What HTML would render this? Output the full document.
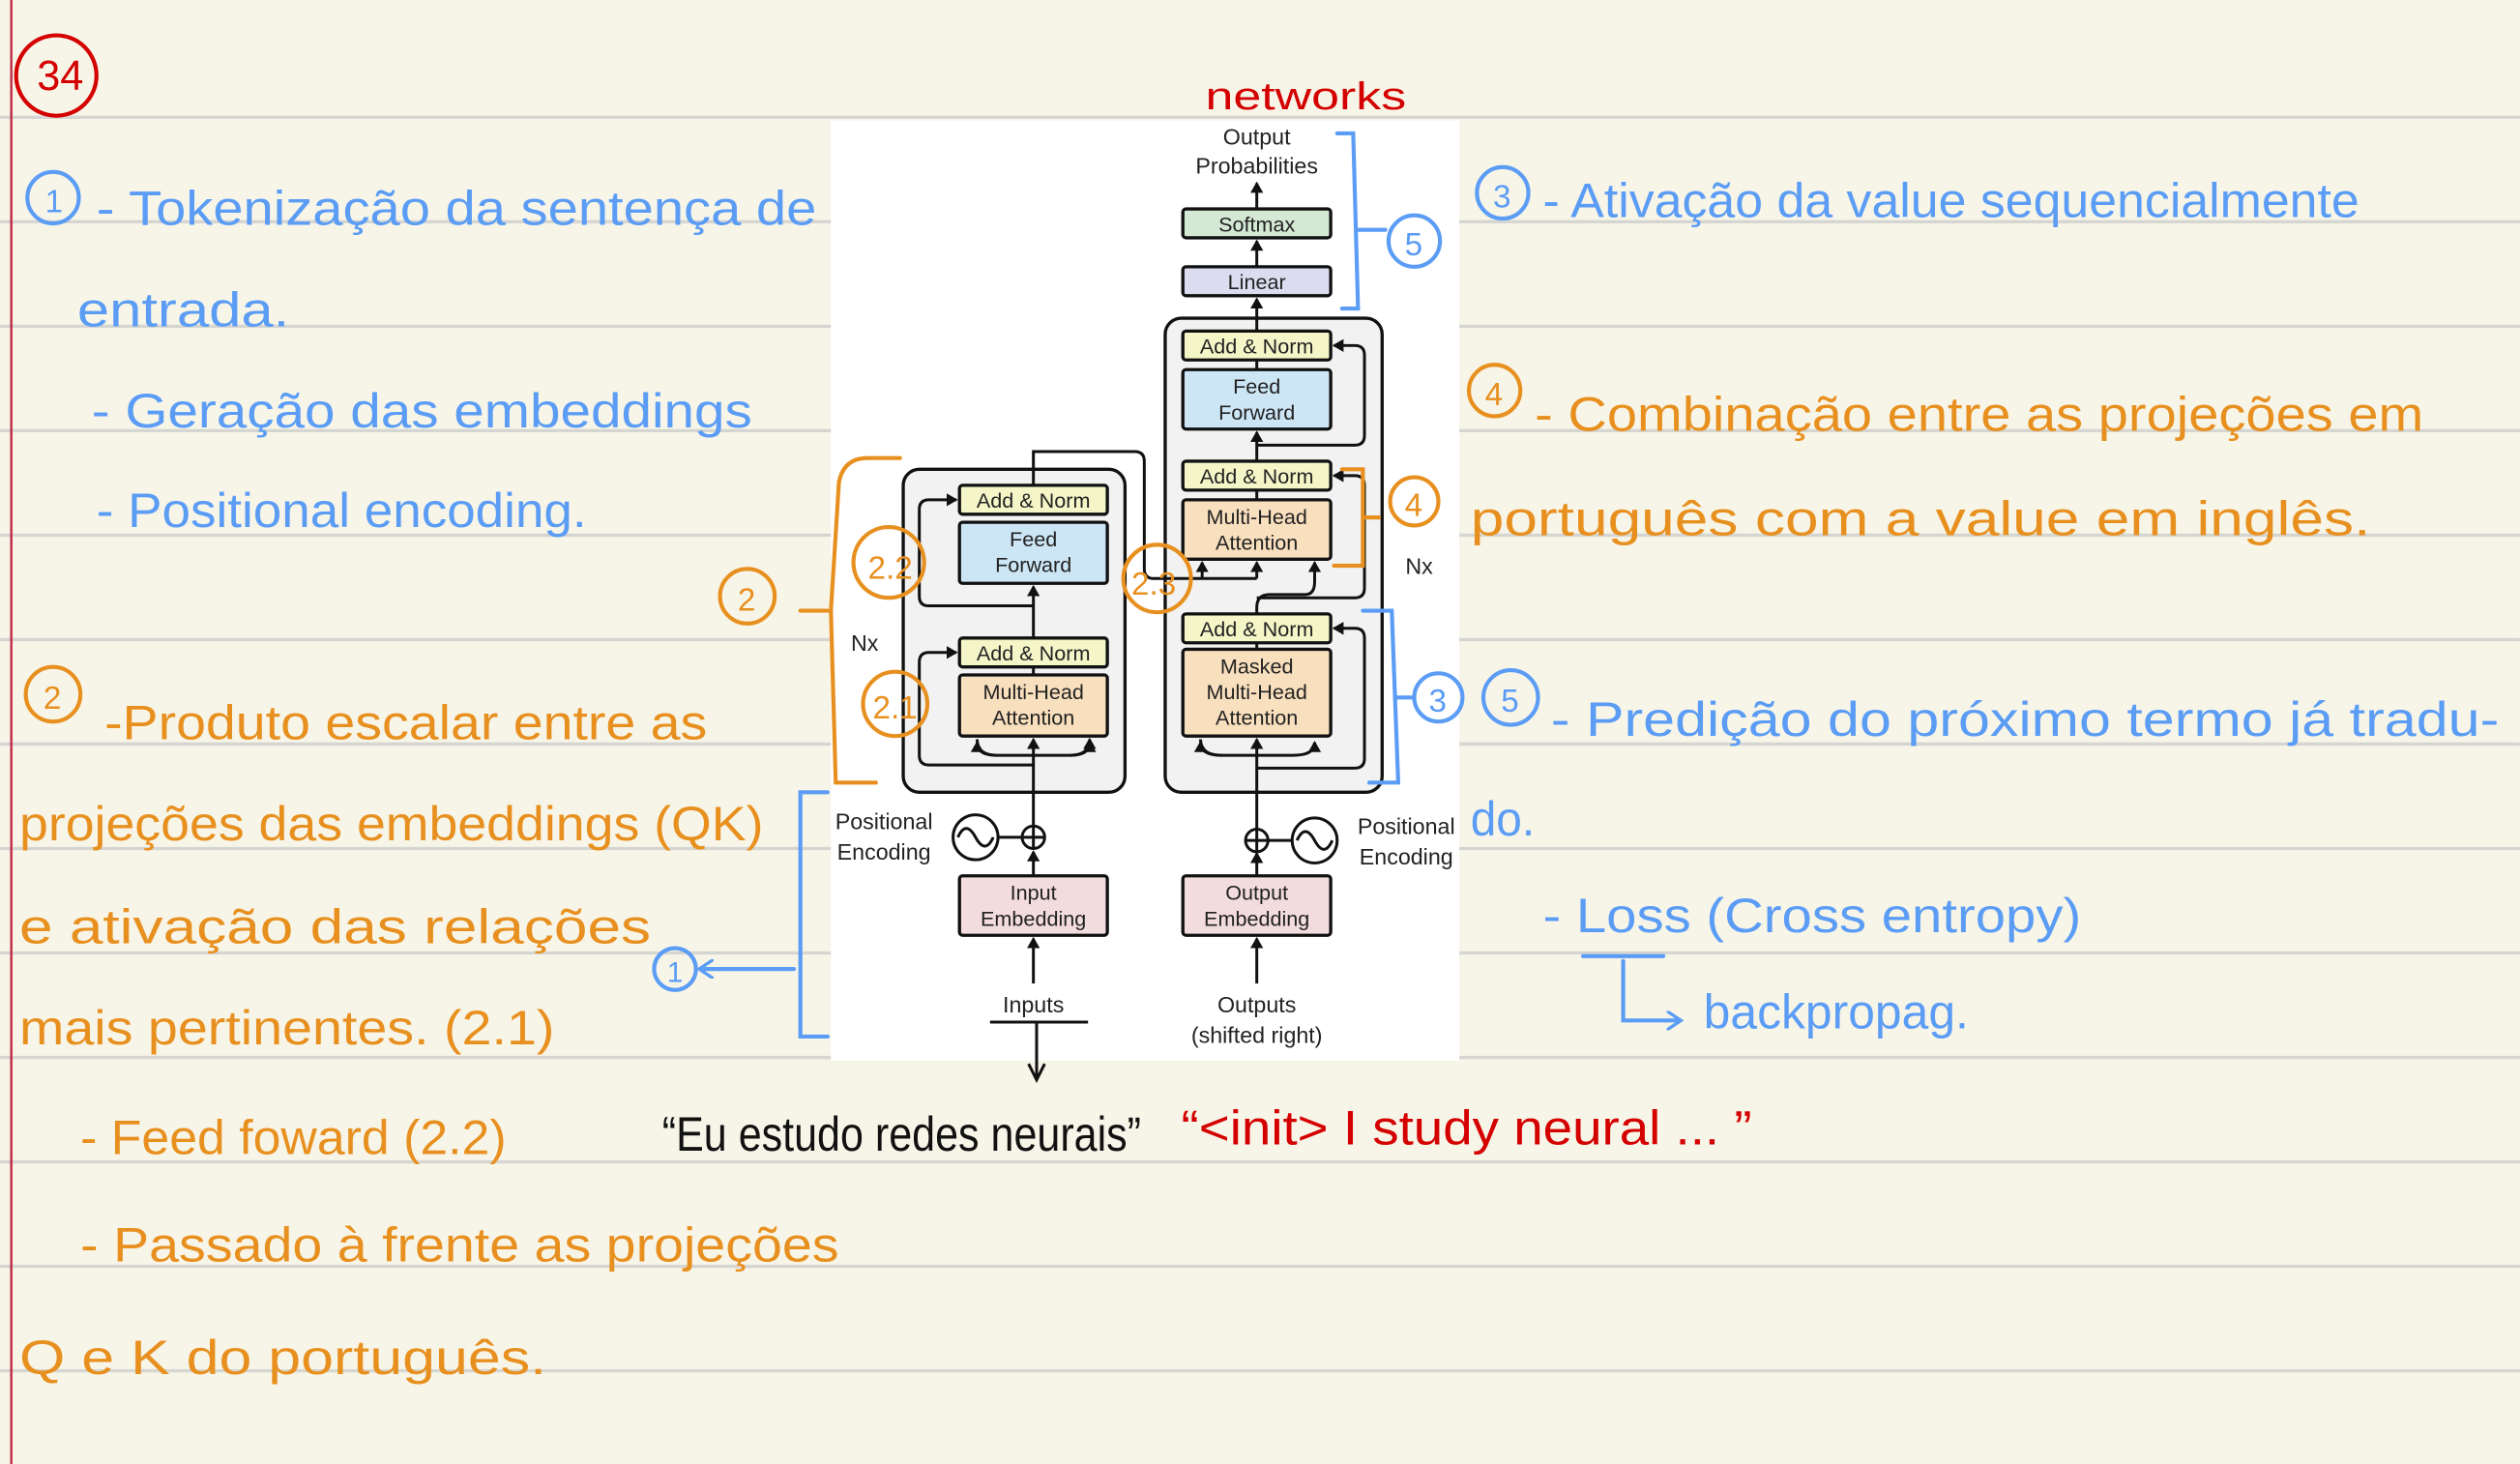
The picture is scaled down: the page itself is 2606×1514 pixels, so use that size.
<!DOCTYPE html>
<html><head><meta charset="utf-8"><style>
html,body{margin:0;padding:0;background:#f7f5e8;}
svg{display:block}
.h{font-family:"Liberation Sans",sans-serif;}
.b{fill:#5b9cf5}.o{fill:#e8901f}.r{fill:#d40000}
.dg{font-family:"Liberation Sans",sans-serif;font-size:13px;fill:#222;text-anchor:middle}
</style></head><body>
<svg width="2606" height="1514" viewBox="0 0 1568 911" xmlns="http://www.w3.org/2000/svg">
<defs>
<marker id="a" markerWidth="8" markerHeight="8" refX="6" refY="4" orient="auto" markerUnits="userSpaceOnUse"><path d="M0,0 L7,4 L0,8 Z" fill="#111"/></marker>
<marker id="bb" markerWidth="12" markerHeight="12" refX="8" refY="6" orient="auto" markerUnits="userSpaceOnUse"><path d="M0,0 L9,6 L0,12" fill="none" stroke="#5b9cf5" stroke-width="2"/></marker>
</defs>
<rect width="1568" height="911" fill="#f7f5e8"/>
<g stroke="#d5d5d2" stroke-width="2">
<line x1="0" y1="73" x2="1568" y2="73"/><line x1="0" y1="138" x2="1568" y2="138"/><line x1="0" y1="203" x2="1568" y2="203"/><line x1="0" y1="268" x2="1568" y2="268"/><line x1="0" y1="333" x2="1568" y2="333"/><line x1="0" y1="398" x2="1568" y2="398"/><line x1="0" y1="463" x2="1568" y2="463"/><line x1="0" y1="528" x2="1568" y2="528"/><line x1="0" y1="593" x2="1568" y2="593"/><line x1="0" y1="658" x2="1568" y2="658"/><line x1="0" y1="723" x2="1568" y2="723"/><line x1="0" y1="788" x2="1568" y2="788"/><line x1="0" y1="853" x2="1568" y2="853"/>
</g>
<line x1="7" y1="0" x2="7" y2="911" stroke="#c0304a" stroke-width="1.5"/>
<!-- diagram -->
<rect x="517" y="75" width="391" height="585" fill="#fff"/>
<g stroke="#111" stroke-width="2" fill="none">
<rect x="562" y="292" width="138" height="201" rx="10" fill="#f2f2f3"/>
<rect x="725" y="198" width="135" height="295" rx="10" fill="#f2f2f3"/>
</g>
<g stroke="#111" stroke-width="2">
<rect x="597" y="302" width="92" height="18" rx="2" fill="#f4f6c8"/>
<rect x="597" y="325" width="92" height="38" rx="2" fill="#cde6f5"/>
<rect x="597" y="397" width="92" height="18" rx="2" fill="#f4f6c8"/>
<rect x="597" y="420" width="92" height="38" rx="2" fill="#f8dfbd"/>
<rect x="736" y="206" width="92" height="18" rx="2" fill="#f4f6c8"/>
<rect x="736" y="230" width="92" height="37" rx="2" fill="#cde6f5"/>
<rect x="736" y="287" width="92" height="18" rx="2" fill="#f4f6c8"/>
<rect x="736" y="311" width="92" height="37" rx="2" fill="#f8dfbd"/>
<rect x="736" y="382" width="92" height="18" rx="2" fill="#f4f6c8"/>
<rect x="736" y="404" width="92" height="54" rx="2" fill="#f8dfbd"/>
<rect x="736" y="166" width="92" height="18" rx="2" fill="#dcdcf0"/>
<rect x="736" y="130" width="92" height="18" rx="2" fill="#d4e9d4"/>
<rect x="597" y="545" width="92" height="37" rx="2" fill="#f3dcdd"/>
<rect x="736" y="545" width="92" height="37" rx="2" fill="#f3dcdd"/>
</g>
<g stroke="#111" stroke-width="1.8" fill="none">
<!-- encoder -->
<line x1="643" y1="612" x2="643" y2="584" marker-end="url(#a)"/>
<line x1="643" y1="545" x2="643" y2="530" marker-end="url(#a)"/>
<line x1="643" y1="514" x2="643" y2="460" marker-end="url(#a)"/>
<line x1="643" y1="420" x2="643" y2="415"/>
<line x1="643" y1="397" x2="643" y2="365" marker-end="url(#a)"/>
<path d="M643,302 V281 H706 Q712,281 712,287 V354 Q712,360 718,360 H782"/>
<path d="M748,360 V350" marker-end="url(#a)"/>
<path d="M782,360 V350" marker-end="url(#a)"/>
<path d="M643,476 H578 Q572,476 572,470 V412 Q572,406 578,406 H595" marker-end="url(#a)"/>
<path d="M643,377 H578 Q572,377 572,371 V317 Q572,311 578,311 H595" marker-end="url(#a)"/>
<path d="M608,460 Q608,470 620,470 H666 Q678,470 678,460" marker-end="url(#a)"/>
<path d="M666,470 Q678,470 678,462" marker-end="url(#a)"/>
<path d="M620,470 Q608,470 608,462" marker-end="url(#a)"/>
<!-- decoder -->
<line x1="782" y1="612" x2="782" y2="584" marker-end="url(#a)"/>
<line x1="782" y1="545" x2="782" y2="531" marker-end="url(#a)"/>
<line x1="782" y1="516" x2="782" y2="460" marker-end="url(#a)"/>
<line x1="782" y1="404" x2="782" y2="400"/>
<path d="M782,382 V378 Q782,370 790,370 H812 Q818,370 818,362 V350" marker-end="url(#a)"/>
<line x1="782" y1="311" x2="782" y2="305"/>
<line x1="782" y1="287" x2="782" y2="269" marker-end="url(#a)"/>
<line x1="782" y1="230" x2="782" y2="224"/>
<line x1="782" y1="206" x2="782" y2="186" marker-end="url(#a)"/>
<line x1="782" y1="166" x2="782" y2="150" marker-end="url(#a)"/>
<line x1="782" y1="130" x2="782" y2="114" marker-end="url(#a)"/>
<path d="M782,478 H843 Q849,478 849,472 V397 Q849,391 843,391 H830" marker-end="url(#a)"/>
<path d="M782,372 H843 Q849,372 849,366 V302 Q849,296 843,296 H830" marker-end="url(#a)"/>
<path d="M782,277 H843 Q849,277 849,271 V221 Q849,215 843,215 H830" marker-end="url(#a)"/>
<path d="M747,460 Q747,470 760,470 H805 Q818,470 818,462" marker-end="url(#a)"/>
<path d="M760,470 Q747,470 747,462" marker-end="url(#a)"/>
<!-- positional -->
<circle cx="607" cy="521" r="14"/><path d="M596,521 q5,-11 11,0 q6,11 11,0"/>
<line x1="621" y1="521" x2="636" y2="521"/>
<circle cx="643" cy="521" r="7"/><path d="M636,521 h14 M643,514 v14"/>
<circle cx="818" cy="523" r="14"/><path d="M807,523 q5,-11 11,0 q6,11 11,0"/>
<line x1="789" y1="523" x2="804" y2="523"/>
<circle cx="782" cy="523" r="7"/><path d="M775,523 h14 M782,516 v14"/>
<path d="M616,636 H677 M645,636 V670 M640,662 l5,10 l5,-10"/>
</g>
<g class="dg">
<text x="643" y="316">Add &amp; Norm</text>
<text x="643" y="340">Feed</text><text x="643" y="356">Forward</text>
<text x="643" y="411">Add &amp; Norm</text>
<text x="643" y="435">Multi-Head</text><text x="643" y="451">Attention</text>
<text x="782" y="220">Add &amp; Norm</text>
<text x="782" y="245">Feed</text><text x="782" y="261">Forward</text>
<text x="782" y="301">Add &amp; Norm</text>
<text x="782" y="326">Multi-Head</text><text x="782" y="342">Attention</text>
<text x="782" y="396">Add &amp; Norm</text>
<text x="782" y="419">Masked</text><text x="782" y="435">Multi-Head</text><text x="782" y="451">Attention</text>
<text x="782" y="180">Linear</text>
<text x="782" y="144">Softmax</text>
<text x="782" y="90" font-size="14">Output</text><text x="782" y="108" font-size="14">Probabilities</text>
<text x="643" y="560">Input</text><text x="643" y="576">Embedding</text>
<text x="782" y="560">Output</text><text x="782" y="576">Embedding</text>
<text x="550" y="516" font-size="14">Positional</text><text x="550" y="535" font-size="14">Encoding</text>
<text x="875" y="519" font-size="14">Positional</text><text x="875" y="538" font-size="14">Encoding</text>
<text x="643" y="630" font-size="14">Inputs</text>
<text x="782" y="630" font-size="14">Outputs</text><text x="782" y="649" font-size="14">(shifted right)</text>
<text x="538" y="405" font-size="14">Nx</text><text x="883" y="357" font-size="14">Nx</text>
</g>
<!-- annotations shapes -->
<g fill="none" stroke-width="2.5" stroke-linecap="round">
<circle cx="35" cy="47" r="25" stroke="#d40000"/>
<circle cx="33" cy="123" r="16" stroke="#5b9cf5"/>
<circle cx="935" cy="120" r="16" stroke="#5b9cf5"/>
<circle cx="930" cy="243" r="16" stroke="#e8901f"/>
<circle cx="33" cy="432" r="17" stroke="#e8901f"/>
<circle cx="465" cy="371" r="17" stroke="#e8901f"/>
<path d="M498,380 H515" stroke="#e8901f"/>
<path d="M560,285 H540 Q525,285 522,300 L517,380 L520,487 H545" stroke="#e8901f"/>
<circle cx="553" cy="350" r="22" stroke="#e8901f"/>
<circle cx="557" cy="438" r="20" stroke="#e8901f"/>
<circle cx="720" cy="360" r="21" stroke="#e8901f"/>
<path d="M835,292 H848 V352 H830 M848,322 H858" stroke="#e8901f"/>
<circle cx="880" cy="312" r="15" stroke="#e8901f"/>
<path d="M848,380 H866 L870,487 H852 M868,434 H880" stroke="#5b9cf5"/>
<circle cx="895" cy="434" r="15" stroke="#5b9cf5"/>
<circle cx="940" cy="434" r="17" stroke="#5b9cf5"/>
<path d="M832,83 H842 L845,192 H835 M844,143 H862" stroke="#5b9cf5"/>
<circle cx="880" cy="150" r="16" stroke="#5b9cf5"/>
<path d="M515,493 H498 V645 H515" stroke="#5b9cf5"/>
<circle cx="420" cy="603" r="13" stroke="#5b9cf5"/>
<path d="M494,603 H436" stroke="#5b9cf5" marker-end="url(#bb)"/>
<path d="M985,595 H1035 M1010,598 V635 H1045" stroke="#5b9cf5" marker-end="url(#bb)"/>
</g>
<g class="h" font-size="30">
<text x="23" y="56" class="r" font-size="26">34</text>
<text x="28" y="132" class="b" font-size="20">1</text>
<text x="929" y="129" class="b" font-size="20">3</text>
<text x="924" y="252" class="o" font-size="20">4</text>
<text x="27" y="441" class="o" font-size="20">2</text>
<text x="459" y="380" class="o" font-size="20">2</text>
<text x="540" y="360" class="o" font-size="20">2.2</text>
<text x="543" y="447" class="o" font-size="20">2.1</text>
<text x="704" y="370" class="o" font-size="20">2.3</text>
<text x="874" y="321" class="o" font-size="20">4</text>
<text x="889" y="443" class="b" font-size="20">3</text>
<text x="934" y="443" class="b" font-size="20">5</text>
<text x="874" y="159" class="b" font-size="20">5</text>
<text x="415" y="611" class="b" font-size="18">1</text>
<text x="750" y="68" class="r" font-size="24" textLength="125" lengthAdjust="spacingAndGlyphs">networks</text>
<text x="60" y="140" class="b" textLength="448" lengthAdjust="spacingAndGlyphs">- Tokenização da sentença de</text>
<text x="48" y="203" class="b" textLength="132" lengthAdjust="spacingAndGlyphs">entrada.</text>
<text x="57" y="266" class="b" textLength="411" lengthAdjust="spacingAndGlyphs">- Geração das embeddings</text>
<text x="60" y="328" class="b" textLength="305" lengthAdjust="spacingAndGlyphs">- Positional encoding.</text>
<text x="65" y="460" class="o" textLength="375" lengthAdjust="spacingAndGlyphs">-Produto escalar entre as</text>
<text x="12" y="523" class="o" textLength="463" lengthAdjust="spacingAndGlyphs">projeções das embeddings (QK)</text>
<text x="12" y="587" class="o" textLength="393" lengthAdjust="spacingAndGlyphs">e ativação das relações</text>
<text x="12" y="650" class="o" textLength="333" lengthAdjust="spacingAndGlyphs">mais pertinentes. (2.1)</text>
<text x="50" y="718" class="o" textLength="265" lengthAdjust="spacingAndGlyphs">- Feed foward (2.2)</text>
<text x="50" y="785" class="o" textLength="472" lengthAdjust="spacingAndGlyphs">- Passado à frente as projeções</text>
<text x="12" y="855" class="o" textLength="328" lengthAdjust="spacingAndGlyphs">Q e K do português.</text>
<text x="412" y="716" fill="#111" textLength="298" lengthAdjust="spacingAndGlyphs">“Eu estudo redes neurais”</text>
<text x="735" y="712" class="r" textLength="355" lengthAdjust="spacingAndGlyphs">“&lt;init&gt; I study neural ... ”</text>
<text x="960" y="135" class="b" textLength="508" lengthAdjust="spacingAndGlyphs">- Ativação da value sequencialmente</text>
<text x="955" y="268" class="o" textLength="553" lengthAdjust="spacingAndGlyphs">- Combinação entre as projeções em</text>
<text x="915" y="333" class="o" textLength="560" lengthAdjust="spacingAndGlyphs">português com a value em inglês.</text>
<text x="965" y="458" class="b" textLength="590" lengthAdjust="spacingAndGlyphs">- Predição do próximo termo já tradu-</text>
<text x="915" y="520" class="b" textLength="40" lengthAdjust="spacingAndGlyphs">do.</text>
<text x="960" y="580" class="b" textLength="335" lengthAdjust="spacingAndGlyphs">- Loss (Cross entropy)</text>
<text x="1060" y="640" class="b" textLength="165" lengthAdjust="spacingAndGlyphs">backpropag.</text>
</g>
</svg>
</body></html>
